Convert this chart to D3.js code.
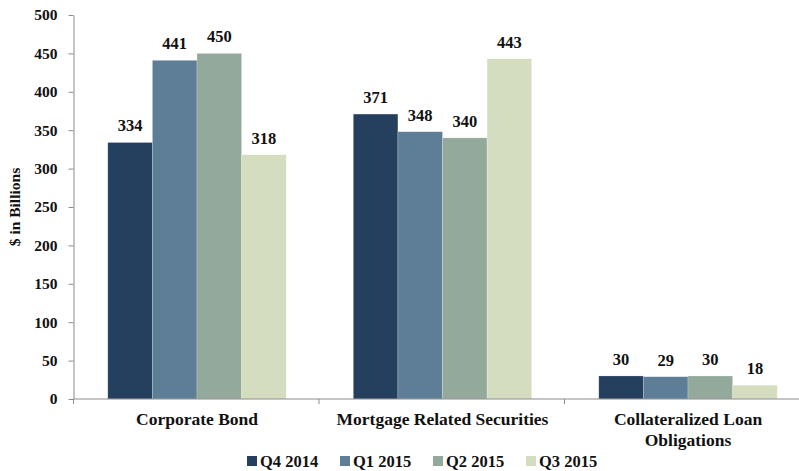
<!DOCTYPE html>
<html>
<head>
<meta charset="utf-8">
<script src="https://cdn.jsdelivr.net/npm/d3@7"></script>
<style>
  body { margin: 0; background: #fff; }
  svg { display: block; font-family: "Liberation Serif", "Times New Roman", serif; font-weight: bold; }
</style>
</head>
<body>
<script>
var categories = [["Corporate Bond"], ["Mortgage Related Securities"], ["Collateralized Loan", "Obligations"]];
var seriesNames = ["Q4 2014", "Q1 2015", "Q2 2015", "Q3 2015"];
var colors = ["#25405f", "#5e7e97", "#93a99b", "#d4ddbf"];
var q4_2014 = [334, 371, 30];
var q1_2015 = [441, 348, 29];
var q2_2015 = [450, 340, 30];
var q3_2015 = [318, 443, 18];
var yTicks = [0, 50, 100, 150, 200, 250, 300, 350, 400, 450, 500];

var series = [q4_2014, q1_2015, q2_2015, q3_2015];

var width = 799, height = 471;
var left = 73.5, bottom = 399, top_ = 15;
var groupOffset = 34.3, groupWidth = 178.4;

var svg = d3.select("body").append("svg")
    .attr("width", width)
    .attr("height", height);

var x0 = d3.scaleBand()
    .domain(d3.range(categories.length))
    .range([left, left + 245.5 * 3]);

var x1 = d3.scaleBand()
    .domain(d3.range(series.length))
    .range([groupOffset, groupOffset + groupWidth]);

var y = d3.scaleLinear()
    .domain([0, 500])
    .range([bottom, top_]);

// bars
var groups = svg.append("g").selectAll("g")
    .data(categories)
    .enter().append("g")
    .attr("transform", (d, i) => "translate(" + x0(i) + ",0)");

groups.selectAll("rect")
    .data((d, i) => series.map((s, j) => ({ j: j, v: s[i] })))
    .enter().append("rect")
    .attr("x", d => x1(d.j))
    .attr("y", d => y(d.v))
    .attr("width", x1.bandwidth())
    .attr("height", d => bottom - y(d.v))
    .attr("fill", d => colors[d.j])
    .attr("stroke", "rgba(255,255,255,0.35)")
    .attr("stroke-width", 0.6);

groups.selectAll("text")
    .data((d, i) => series.map((s, j) => ({ j: j, v: s[i] })))
    .enter().append("text")
    .attr("x", d => x1(d.j) + x1.bandwidth() / 2)
    .attr("y", d => y(d.v) - 11)
    .attr("text-anchor", "middle")
    .attr("font-size", 16.5)
    .attr("fill", "#111")
    .text(d => d.v);

// y axis
var yAxis = svg.append("g")
    .attr("transform", "translate(" + left + ",0)")
    .call(d3.axisLeft(y).tickValues(yTicks).tickSize(5).tickPadding(11).tickSizeOuter(0));
yAxis.select(".domain").attr("stroke", "#8c8c8c");
yAxis.selectAll(".tick line").attr("stroke", "#8c8c8c");
yAxis.selectAll(".tick text")
    .attr("font-family", "Liberation Serif, serif")
    .attr("font-weight", "bold")
    .attr("font-size", 15.5)
    .attr("fill", "#111");

// x axis
var xAxis = svg.append("g")
    .attr("transform", "translate(0," + bottom + ")");
xAxis.append("line")
    .attr("x1", left)
    .attr("x2", x0.range()[1])
    .attr("stroke", "#8c8c8c");
xAxis.selectAll(".xtick")
    .data(d3.range(categories.length + 1))
    .enter().append("line")
    .attr("x1", i => left + i * x0.bandwidth())
    .attr("x2", i => left + i * x0.bandwidth())
    .attr("y1", 0)
    .attr("y2", 5)
    .attr("stroke", "#8c8c8c");

var catLabels = xAxis.selectAll(".cat")
    .data(categories)
    .enter().append("text")
    .attr("text-anchor", "middle")
    .attr("font-size", 17.5)
    .attr("fill", "#111")
    .attr("transform", (d, i) => "translate(" + (x0(i) + groupOffset + groupWidth / 2) + ",0)");
catLabels.selectAll("tspan")
    .data(d => d)
    .enter().append("tspan")
    .attr("x", 0)
    .attr("y", (d, k) => 26 + k * 20.5)
    .text(d => d);

// y title
svg.append("text")
    .attr("transform", "translate(20," + ((bottom + top_) / 2) + ") rotate(-90)")
    .attr("text-anchor", "middle")
    .attr("font-size", 15.5)
    .attr("fill", "#111")
    .text("$ in Billions");

// legend
var legend = svg.append("g").attr("transform", "translate(247,461)");
var items = legend.selectAll("g")
    .data(seriesNames)
    .enter().append("g")
    .attr("transform", (d, i) => "translate(" + (i * 93) + ",0)");
items.append("rect")
    .attr("x", 0)
    .attr("y", -5)
    .attr("width", 10)
    .attr("height", 10)
    .attr("fill", (d, i) => colors[i]);
items.append("text")
    .attr("x", 13)
    .attr("y", 5.5)
    .attr("font-size", 16.5)
    .attr("fill", "#111")
    .text(d => d);
</script>
</body>
</html>
